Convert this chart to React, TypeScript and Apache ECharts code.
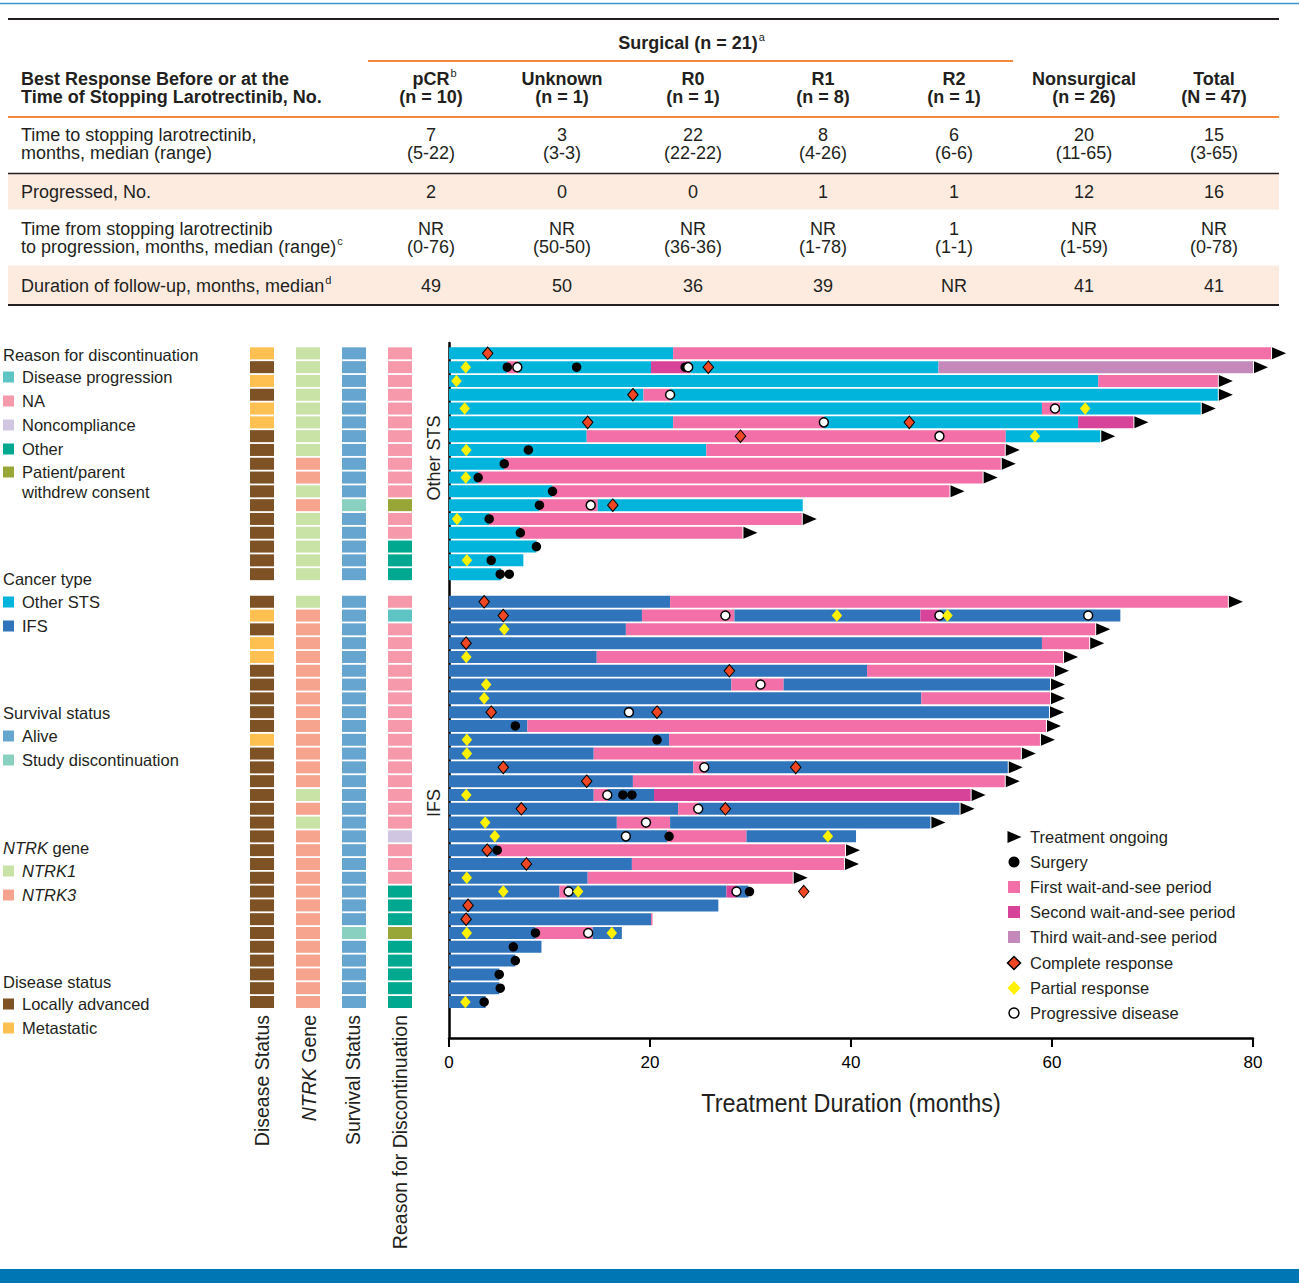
import React, { useEffect, useRef } from 'react';
import * as echarts from 'echarts';

// ---------------- Table data ----------------
const tableColumns = ['pCR', 'Unknown', 'R0', 'R1', 'R2', 'Nonsurgical', 'Total'];
const tableColumnN = ['(n = 10)', '(n = 1)', '(n = 1)', '(n = 8)', '(n = 1)', '(n = 26)', '(N = 47)'];
const timeToStopMedian = ['7', '3', '22', '8', '6', '20', '15'];
const timeToStopRange = ['(5-22)', '(3-3)', '(22-22)', '(4-26)', '(6-6)', '(11-65)', '(3-65)'];
const progressedNo = ['2', '0', '0', '1', '1', '12', '16'];
const timeToProgMedian = ['NR', 'NR', 'NR', 'NR', '1', 'NR', 'NR'];
const timeToProgRange = ['(0-76)', '(50-50)', '(36-36)', '(1-78)', '(1-1)', '(1-59)', '(0-78)'];
const followUpMedian = ['49', '50', '36', '39', 'NR', '41', '41'];

// ---------------- Swimmer data ----------------
const cancerType = [
  'Other STS', 'Other STS', 'Other STS', 'Other STS', 'Other STS', 'Other STS', 'Other STS', 'Other STS', 'Other STS',
  'Other STS', 'Other STS', 'Other STS', 'Other STS', 'Other STS', 'Other STS', 'Other STS', 'Other STS',
  'IFS', 'IFS', 'IFS', 'IFS', 'IFS', 'IFS', 'IFS', 'IFS', 'IFS', 'IFS',
  'IFS', 'IFS', 'IFS', 'IFS', 'IFS', 'IFS', 'IFS', 'IFS', 'IFS', 'IFS',
  'IFS', 'IFS', 'IFS', 'IFS', 'IFS', 'IFS', 'IFS', 'IFS', 'IFS', 'IFS',
];

// [patient, start month, end month, phase] phase: 0 treatment, 1 first, 2 second, 3 third wait-and-see
const treatmentSegments: [number, number, number, number][] = [
  [0, 0, 22.3, 0], [0, 22.3, 81.8, 1],
  [1, 0, 5.8, 0], [1, 5.8, 6.9, 1], [1, 6.9, 20.1, 0], [1, 20.1, 24.0, 2], [1, 24.0, 48.7, 0], [1, 48.7, 80.0, 3],
  [2, 0, 64.6, 0], [2, 64.6, 76.5, 1],
  [3, 0, 19.35, 0], [3, 19.35, 22.0, 1], [3, 22.0, 76.5, 0],
  [4, 0, 59.0, 0], [4, 59.0, 60.8, 1], [4, 60.8, 74.8, 0],
  [5, 0, 22.3, 0], [5, 22.3, 37.3, 1], [5, 37.3, 62.6, 0], [5, 62.6, 68.1, 2],
  [6, 0, 13.7, 0], [6, 13.7, 55.4, 1], [6, 55.4, 64.8, 0],
  [7, 0, 25.6, 0], [7, 25.6, 55.3, 1],
  [8, 0, 5.5, 0], [8, 5.5, 54.9, 1],
  [9, 0, 2.9, 0], [9, 2.9, 53.1, 1],
  [10, 0, 10.3, 0], [10, 10.3, 49.8, 1],
  [11, 0, 9.0, 0], [11, 9.0, 14.8, 1], [11, 14.8, 35.2, 0],
  [12, 0, 4.0, 0], [12, 4.0, 35.1, 1],
  [13, 0, 7.1, 0], [13, 7.1, 29.2, 1],
  [14, 0, 8.7, 0],
  [15, 0, 7.4, 0],
  [16, 0, 5.2, 0],
  [17, 0, 22.0, 0], [17, 22.0, 77.5, 1],
  [18, 0, 19.2, 0], [18, 19.2, 28.4, 1], [18, 28.4, 46.9, 0], [18, 46.9, 48.8, 2], [18, 48.8, 66.8, 0],
  [19, 0, 17.6, 0], [19, 17.6, 64.3, 1],
  [20, 0, 59.0, 0], [20, 59.0, 63.7, 1],
  [21, 0, 14.7, 0], [21, 14.7, 61.1, 1],
  [22, 0, 41.6, 0], [22, 41.6, 60.2, 1],
  [23, 0, 28.1, 0], [23, 28.1, 33.3, 1], [23, 33.3, 59.8, 0],
  [24, 0, 47.0, 0], [24, 47.0, 59.8, 1],
  [25, 0, 59.7, 0],
  [26, 0, 7.8, 0], [26, 7.8, 59.4, 1],
  [27, 0, 21.9, 0], [27, 21.9, 58.8, 1],
  [28, 0, 14.4, 0], [28, 14.4, 56.9, 1],
  [29, 0, 24.3, 0], [29, 24.3, 25.6, 1], [29, 25.6, 55.6, 0],
  [30, 0, 18.3, 0], [30, 18.3, 55.3, 1],
  [31, 0, 14.4, 0], [31, 14.4, 15.8, 1], [31, 15.8, 20.4, 0], [31, 20.4, 51.9, 2],
  [32, 0, 22.8, 0], [32, 22.8, 24.8, 1], [32, 24.8, 50.8, 0],
  [33, 0, 16.7, 0], [33, 16.7, 22.0, 1], [33, 22.0, 47.9, 0],
  [34, 0, 21.7, 0], [34, 21.7, 29.6, 1], [34, 29.6, 40.5, 0],
  [35, 0, 4.8, 0], [35, 4.8, 39.4, 1],
  [36, 0, 18.2, 0], [36, 18.2, 39.3, 1],
  [37, 0, 13.8, 0], [37, 13.8, 34.2, 1],
  [38, 0, 11.0, 0], [38, 11.0, 11.7, 1], [38, 11.7, 27.6, 0], [38, 27.6, 28.6, 2], [38, 28.6, 29.8, 0],
  [39, 0, 26.8, 0],
  [40, 0, 20.1, 0], [40, 20.1, 20.25, 1],
  [41, 0, 8.6, 0], [41, 8.6, 14.3, 1], [41, 14.3, 17.2, 0],
  [42, 0, 9.2, 0],
  [43, 0, 6.6, 0],
  [44, 0, 5.0, 0],
  [45, 0, 5.0, 0],
  [46, 0, 3.65, 0],
];

// [patient, month]
const surgeryEvents: [number, number][] = [
  [1, 5.8], [1, 12.7], [1, 23.5], [7, 7.9], [8, 5.5], [9, 2.9], [10, 10.3], [11, 9.0], [12, 4.0], [13, 7.1],
  [14, 8.7], [15, 4.2], [16, 5.1], [16, 6.0],
  [26, 6.6], [27, 20.7], [31, 17.3], [31, 18.2], [34, 21.9], [35, 4.8], [38, 29.9], [41, 8.6], [42, 6.4],
  [43, 6.6], [44, 5.0], [45, 5.1], [46, 3.5],
];
const progressiveDisease: [number, number][] = [
  [1, 6.8], [1, 23.8], [3, 22.0], [4, 60.3], [5, 37.3], [6, 48.8], [11, 14.1],
  [18, 27.5], [18, 48.8], [18, 63.6], [23, 31.0], [25, 17.9], [29, 25.4], [31, 15.75], [32, 24.8], [33, 19.6],
  [34, 17.6], [38, 11.9], [38, 28.6], [41, 13.85],
];
const completeResponse: [number, number][] = [
  [0, 3.85], [1, 25.8], [3, 18.3], [5, 13.8], [5, 45.8], [6, 29.0], [11, 16.3],
  [17, 3.5], [18, 5.4], [20, 1.7], [22, 27.9], [25, 4.2], [25, 20.7], [29, 5.4], [29, 34.5], [30, 13.7],
  [32, 7.2], [32, 27.5], [35, 3.8], [36, 7.7], [38, 35.3], [39, 1.9], [40, 1.7],
];
const partialResponse: [number, number][] = [
  [1, 1.67], [2, 0.74], [4, 1.56], [4, 63.3], [6, 58.3], [7, 1.72], [9, 1.67], [12, 0.8], [15, 1.78],
  [18, 38.6], [18, 49.6], [19, 5.5], [21, 1.72], [23, 3.7], [24, 3.5], [27, 1.78], [28, 1.78], [31, 1.72],
  [33, 3.6], [34, 4.56], [34, 37.7], [37, 1.77], [38, 5.4], [38, 12.85], [41, 1.77], [41, 16.2], [46, 1.63],
];
const treatmentOngoing: [number, number][] = [
  [0, 81.8], [1, 80.0], [2, 76.5], [3, 76.5], [4, 74.8], [5, 68.1], [6, 64.8], [7, 55.3], [8, 54.9], [9, 53.1],
  [10, 49.8], [12, 35.1], [13, 29.2],
  [17, 77.5], [19, 64.3], [20, 63.7], [21, 61.1], [22, 60.2], [23, 59.8], [24, 59.8], [25, 59.7], [26, 59.4],
  [27, 58.8], [28, 56.9], [29, 55.6], [30, 55.3], [31, 51.9], [32, 50.8], [33, 47.9], [35, 39.4], [36, 39.3],
  [37, 34.2],
];

// Annotation columns (per patient)
const diseaseStatus = [
  'Metastatic', 'Locally advanced', 'Metastatic', 'Locally advanced', 'Metastatic', 'Metastatic',
  'Locally advanced', 'Locally advanced', 'Locally advanced', 'Locally advanced', 'Locally advanced',
  'Locally advanced', 'Locally advanced', 'Locally advanced', 'Locally advanced', 'Locally advanced', 'Locally advanced',
  'Locally advanced', 'Metastatic', 'Locally advanced', 'Metastatic', 'Metastatic', 'Locally advanced',
  'Locally advanced', 'Locally advanced', 'Locally advanced', 'Locally advanced', 'Metastatic',
  'Locally advanced', 'Locally advanced', 'Locally advanced', 'Locally advanced', 'Locally advanced',
  'Locally advanced', 'Locally advanced', 'Locally advanced', 'Locally advanced', 'Locally advanced',
  'Locally advanced', 'Locally advanced', 'Locally advanced', 'Locally advanced', 'Locally advanced',
  'Locally advanced', 'Locally advanced', 'Locally advanced', 'Locally advanced',
];
const ntrkGene = [
  'NTRK1', 'NTRK1', 'NTRK1', 'NTRK1', 'NTRK1', 'NTRK1', 'NTRK1', 'NTRK1', 'NTRK3', 'NTRK3', 'NTRK1',
  'NTRK3', 'NTRK1', 'NTRK1', 'NTRK1', 'NTRK1', 'NTRK1',
  'NTRK1', 'NTRK3', 'NTRK3', 'NTRK3', 'NTRK3', 'NTRK3', 'NTRK3', 'NTRK3', 'NTRK3', 'NTRK3', 'NTRK3',
  'NTRK3', 'NTRK3', 'NTRK3', 'NTRK1', 'NTRK3', 'NTRK1', 'NTRK3', 'NTRK3', 'NTRK3', 'NTRK3', 'NTRK3',
  'NTRK3', 'NTRK3', 'NTRK3', 'NTRK3', 'NTRK3', 'NTRK3', 'NTRK3', 'NTRK3',
];
const survivalStatus = [
  'Alive', 'Alive', 'Alive', 'Alive', 'Alive', 'Alive', 'Alive', 'Alive', 'Alive', 'Alive', 'Alive',
  'Study discontinuation', 'Alive', 'Alive', 'Alive', 'Alive', 'Alive',
  'Alive', 'Alive', 'Alive', 'Alive', 'Alive', 'Alive', 'Alive', 'Alive', 'Alive', 'Alive', 'Alive',
  'Alive', 'Alive', 'Alive', 'Alive', 'Alive', 'Alive', 'Alive', 'Alive', 'Alive', 'Alive', 'Alive',
  'Alive', 'Alive', 'Study discontinuation', 'Alive', 'Alive', 'Alive', 'Alive', 'Alive',
];
const discontinuationReason = [
  'NA', 'NA', 'NA', 'NA', 'NA', 'NA', 'NA', 'NA', 'NA', 'NA', 'NA',
  'Patient/parent withdrew consent', 'NA', 'NA', 'Other', 'Other', 'Other',
  'NA', 'Disease progression', 'NA', 'NA', 'NA', 'NA', 'NA', 'NA', 'NA', 'NA', 'NA', 'NA', 'NA', 'NA',
  'NA', 'NA', 'NA', 'Noncompliance', 'NA', 'NA', 'NA', 'Other', 'Other', 'Other',
  'Patient/parent withdrew consent', 'Other', 'Other', 'Other', 'Other', 'Other',
];
const annotationColumns = ['Disease Status', 'NTRK Gene', 'Survival Status', 'Reason for Discontinuation'];
const xTicks = [0, 20, 40, 60, 80];

// ---------------- Styles ----------------
const FONT = 'Liberation Sans';
const INK = '#231f20';
const COLORS: Record<string, string> = {
  'Other STS': '#00b4dc',
  IFS: '#3075bb',
  wait1: '#f26fa7',
  wait2: '#d8439a',
  wait3: '#c488ba',
  'Locally advanced': '#7f5225',
  Metastatic: '#fec050',
  NTRK1: '#c9e2a5',
  NTRK3: '#f7a48f',
  Alive: '#66a5cf',
  'Study discontinuation': '#8ad0c0',
  NA: '#f599ab',
  'Disease progression': '#5ec4c4',
  Noncompliance: '#d0c6e2',
  Other: '#00a890',
  'Patient/parent withdrew consent': '#97a636',
};

const Y_MIN = -0.75;
const Y_MAX = 49.61;

const slotOf = (p: number) => (cancerType[p] === 'IFS' ? p + 1 : p);

let measureCtx: CanvasRenderingContext2D | null = null;
function textWidth(text: string, size: number, weight = 'normal', style = 'normal') {
  if (!measureCtx) measureCtx = document.createElement('canvas').getContext('2d');
  if (!measureCtx) return text.length * size * 0.55;
  measureCtx.font = `${style} ${weight} ${size}px "${FONT}", Arial, sans-serif`;
  return measureCtx.measureText(text).width;
}

function txt(text: string, x: number, y: number, o: any = {}) {
  return {
    type: 'text',
    x,
    y,
    silent: true,
    rotation: o.rotation || 0,
    scaleX: o.scaleX || 1,
    style: {
      text,
      fontSize: o.size || 18,
      fontFamily: FONT,
      fontWeight: o.bold ? 'bold' : 'normal',
      fontStyle: o.italic ? 'italic' : 'normal',
      fill: o.color || INK,
      align: o.align || 'left',
      verticalAlign: 'middle',
    },
  };
}
function hline(x1: number, x2: number, y: number, color: string, w: number) {
  return { type: 'line', silent: true, shape: { x1, y1: y, x2, y2: y }, style: { stroke: color, lineWidth: w } };
}
function rect(x: number, y: number, w: number, h: number, fill: string) {
  return { type: 'rect', silent: true, shape: { x, y, width: w, height: h }, style: { fill } };
}

function buildGraphic() {
  const g: any[] = [];
  const ORANGE = '#f5883d';
  const colX = [431, 562, 693, 823, 954, 1084, 1214];
  // figure frame
  g.push(hline(0, 1299, 3.5, '#3b93cf', 1.5));
  g.push(rect(0, 1269, 1299, 14, '#0077b5'));
  // table
  g.push(rect(8, 174, 1271, 35.5, '#fdebe0'));
  g.push(rect(8, 265.5, 1271, 38.5, '#fdebe0'));
  g.push(hline(8, 1279, 19, INK, 2));
  g.push(hline(368, 1013, 61, ORANGE, 2));
  g.push(hline(8, 1279, 117, ORANGE, 2));
  g.push(hline(8, 1279, 173.5, INK, 1.5));
  g.push(hline(8, 1279, 305, INK, 2));

  const surg = 'Surgical (n = 21)';
  g.push(txt(surg, 688, 43, { bold: true, align: 'center' }));
  g.push(txt('a', 688 + textWidth(surg, 18, 'bold') / 2 + 1, 37, { size: 11 }));

  g.push(txt('Best Response Before or at the', 21, 79, { bold: true }));
  g.push(txt('Time of Stopping Larotrectinib, No.', 21, 97, { bold: true }));
  tableColumns.forEach((c, i) => {
    g.push(txt(c, colX[i], 79, { bold: true, align: 'center' }));
    if (c === 'pCR') g.push(txt('b', colX[i] + textWidth(c, 18, 'bold') / 2 + 1, 73, { size: 11 }));
    g.push(txt(tableColumnN[i], colX[i], 97, { bold: true, align: 'center' }));
  });

  g.push(txt('Time to stopping larotrectinib,', 21, 135));
  g.push(txt('months, median (range)', 21, 153));
  g.push(txt('Progressed, No.', 21, 192));
  g.push(txt('Time from stopping larotrectinib', 21, 229));
  const tp = 'to progression, months, median (range)';
  g.push(txt(tp, 21, 247));
  g.push(txt('c', 21 + textWidth(tp, 18) + 1, 241, { size: 11 }));
  const fu = 'Duration of follow-up, months, median';
  g.push(txt(fu, 21, 286));
  g.push(txt('d', 21 + textWidth(fu, 18) + 1, 280, { size: 11 }));
  colX.forEach((x, i) => {
    g.push(txt(timeToStopMedian[i], x, 135, { align: 'center' }));
    g.push(txt(timeToStopRange[i], x, 153, { align: 'center' }));
    g.push(txt(progressedNo[i], x, 192, { align: 'center' }));
    g.push(txt(timeToProgMedian[i], x, 229, { align: 'center' }));
    g.push(txt(timeToProgRange[i], x, 247, { align: 'center' }));
    g.push(txt(followUpMedian[i], x, 286, { align: 'center' }));
  });

  // Left legend
  const LS = 16.5;
  const heading = (t: string, y: number) => g.push(txt(t, 3, y, { size: LS }));
  const item = (t: string, color: string, y: number, italic = false) => {
    g.push(rect(3, y - 5.5, 11, 11, color));
    g.push(txt(t, 22, y, { size: LS, italic }));
  };
  heading('Reason for discontinuation', 355);
  item('Disease progression', COLORS['Disease progression'], 377);
  item('NA', COLORS.NA, 401);
  item('Noncompliance', COLORS.Noncompliance, 425);
  item('Other', COLORS.Other, 449);
  item('Patient/parent', COLORS['Patient/parent withdrew consent'], 472);
  g.push(txt('withdrew consent', 22, 492, { size: LS }));
  heading('Cancer type', 579);
  item('Other STS', COLORS['Other STS'], 602);
  item('IFS', COLORS.IFS, 626);
  heading('Survival status', 713);
  item('Alive', COLORS.Alive, 736);
  item('Study discontinuation', COLORS['Study discontinuation'], 760);
  g.push(txt('NTRK', 3, 848, { size: LS, italic: true }));
  g.push(txt(' gene', 3 + textWidth('NTRK', LS, 'normal', 'italic'), 848, { size: LS }));
  item('NTRK1', COLORS.NTRK1, 871, true);
  item('NTRK3', COLORS.NTRK3, 895, true);
  heading('Disease status', 982);
  item('Locally advanced', COLORS['Locally advanced'], 1004);
  item('Metastatic', COLORS.Metastatic, 1028);

  // Rotated annotation column labels
  const RS = 19.5;
  const labX = [262, 309, 353, 400];
  annotationColumns.forEach((name, i) => {
    if (name.startsWith('NTRK')) {
      const rest = name.slice(4);
      const wRest = textWidth(rest, RS);
      g.push({
        type: 'group', x: labX[i], y: 1015, rotation: Math.PI / 2, silent: true,
        children: [txt(rest, 0, 0, { size: RS, align: 'right' }), txt('NTRK', -wRest, 0, { size: RS, align: 'right', italic: true })],
      });
    } else {
      g.push(txt(name, labX[i], 1015, { size: RS, align: 'right', rotation: Math.PI / 2 }));
    }
  });
  g.push(txt('Other STS', 434, 458, { size: 18, align: 'center', rotation: Math.PI / 2 }));
  g.push(txt('IFS', 434, 803, { size: 18, align: 'center', rotation: Math.PI / 2 }));

  // Axis title
  g.push(txt('Treatment Duration (months)', 851, 1103, { size: 26, align: 'center', scaleX: 0.9 }));

  // Right legend
  const RX = 1014;
  const TX = 1030;
  g.push({ type: 'polygon', silent: true, shape: { points: [[1007.5, 831], [1021.5, 837], [1007.5, 843]] }, style: { fill: '#000' } });
  g.push(txt('Treatment ongoing', TX, 837, { size: LS }));
  g.push({ type: 'circle', silent: true, shape: { cx: RX, cy: 862, r: 5.5 }, style: { fill: '#000' } });
  g.push(txt('Surgery', TX, 862, { size: LS }));
  g.push(rect(1008, 881, 12, 12, COLORS.wait1));
  g.push(txt('First wait-and-see period', TX, 887, { size: LS }));
  g.push(rect(1008, 906, 12, 12, COLORS.wait2));
  g.push(txt('Second wait-and-see period', TX, 912, { size: LS }));
  g.push(rect(1008, 931, 12, 12, COLORS.wait3));
  g.push(txt('Third wait-and-see period', TX, 937, { size: LS }));
  g.push({ type: 'polygon', silent: true, shape: { points: [[RX, 956.5], [RX + 6.5, 963], [RX, 969.5], [RX - 6.5, 963]] }, style: { fill: '#ef4624', stroke: '#000', lineWidth: 1.5 } });
  g.push(txt('Complete response', TX, 963, { size: LS }));
  g.push({ type: 'polygon', silent: true, shape: { points: [[RX, 981], [RX + 6.5, 988], [RX, 995], [RX - 6.5, 988]] }, style: { fill: '#fff200' } });
  g.push(txt('Partial response', TX, 988, { size: LS }));
  g.push({ type: 'circle', silent: true, shape: { cx: RX, cy: 1013, r: 5 }, style: { fill: '#fff', stroke: '#000', lineWidth: 1.5 } });
  g.push(txt('Progressive disease', TX, 1013, { size: LS }));
  return g;
}

function buildOption() {
  const segData = treatmentSegments.map(([p, s, e, ph]) => [slotOf(p), s, e, ph, cancerType[p] === 'IFS' ? 1 : 0]);
  const cellColors: string[] = [];
  const cellData: number[][] = [];
  const cols = [diseaseStatus, ntrkGene, survivalStatus, discontinuationReason];
  cancerType.forEach((_, p) => {
    cols.forEach((arr, c) => {
      cellData.push([c, slotOf(p)]);
      cellColors.push(COLORS[arr[p]]);
    });
  });
  const pts = (arr: [number, number][]) => arr.map(([p, m]) => [m, slotOf(p)]);

  return {
    animation: false,
    backgroundColor: '#ffffff',
    grid: [
      { left: 449, top: 343, width: 804, height: 695 },
      { left: 239, top: 343, width: 184, height: 695 },
    ],
    xAxis: [
      {
        type: 'value', gridIndex: 0, min: xTicks[0], max: xTicks[xTicks.length - 1], interval: 20,
        axisLine: { show: true, onZero: false, lineStyle: { color: '#000', width: 2.5 } },
        axisTick: { show: true, length: 9, lineStyle: { color: '#000', width: 2 } },
        axisLabel: { fontSize: 17, color: '#000', margin: 16, fontFamily: FONT },
        splitLine: { show: false },
      },
      { type: 'category', gridIndex: 1, data: annotationColumns, show: false },
    ],
    yAxis: [
      {
        type: 'value', gridIndex: 0, min: Y_MIN, max: Y_MAX, inverse: true,
        axisLine: { show: true, onZero: false, lineStyle: { color: '#000', width: 2.5 } },
        axisTick: { show: false }, axisLabel: { show: false }, splitLine: { show: false },
      },
      { type: 'value', gridIndex: 1, min: Y_MIN, max: Y_MAX, inverse: true, show: false, splitLine: { show: false } },
    ],
    series: [
      {
        type: 'custom', name: 'Treatment', xAxisIndex: 0, yAxisIndex: 0, clip: false, silent: true, z: 2,
        data: segData,
        encode: { x: [1, 2], y: 0 },
        renderItem: (params: any, api: any) => {
          const a = api.coord([api.value(1), api.value(0)]);
          const b = api.coord([api.value(2), api.value(0)]);
          const ph = api.value(3);
          const fill = ph === 0 ? (api.value(4) ? COLORS.IFS : COLORS['Other STS']) : COLORS['wait' + ph];
          return { type: 'rect', shape: { x: a[0], y: a[1] - 6, width: Math.max(b[0] - a[0], 0.6), height: 12 }, style: { fill } };
        },
      },
      {
        type: 'custom', name: 'Annotations', xAxisIndex: 1, yAxisIndex: 1, clip: false, silent: true,
        data: cellData,
        encode: { x: 0, y: 1 },
        renderItem: (params: any, api: any) => {
          const c = api.coord([api.value(0), api.value(1)]);
          return { type: 'rect', shape: { x: c[0] - 12, y: c[1] - 6, width: 24, height: 12 }, style: { fill: cellColors[params.dataIndex] } };
        },
      },
      {
        type: 'scatter', name: 'Treatment ongoing', data: pts(treatmentOngoing), clip: false, silent: true, z: 3,
        symbol: 'path://M0,0L14,6L0,12Z', symbolSize: [14, 12], symbolOffset: [8, 0], itemStyle: { color: '#000', opacity: 1 },
      },
      {
        type: 'scatter', name: 'Surgery', data: pts(surgeryEvents), clip: false, silent: true, z: 4,
        symbol: 'circle', symbolSize: 9.5, itemStyle: { color: '#000', opacity: 1 },
      },
      {
        type: 'scatter', name: 'Progressive disease', data: pts(progressiveDisease), clip: false, silent: true, z: 5,
        symbol: 'circle', symbolSize: 9, itemStyle: { color: '#fff', borderColor: '#000', borderWidth: 1.5, opacity: 1 },
      },
      {
        type: 'scatter', name: 'Complete response', data: pts(completeResponse), clip: false, silent: true, z: 6,
        symbol: 'diamond', symbolSize: [10.5, 12.5], itemStyle: { color: '#ef4624', borderColor: '#000', borderWidth: 1, opacity: 1 },
      },
      {
        type: 'scatter', name: 'Partial response', data: pts(partialResponse), clip: false, silent: true, z: 7,
        symbol: 'diamond', symbolSize: [10.5, 12.5], itemStyle: { color: '#fff200', opacity: 1 },
      },
    ],
    graphic: buildGraphic(),
  };
}

export default function App() {
  const ref = useRef<HTMLDivElement>(null);
  useEffect(() => {
    document.body.style.margin = '0';
    if (!ref.current) return;
    const chart = echarts.init(ref.current, null, { renderer: 'svg' });
    chart.setOption(buildOption() as any);
    return () => chart.dispose();
  }, []);
  return <div ref={ref} style={{ position: 'absolute', left: 0, top: 0, width: 1299, height: 1283, background: '#fff' }} />;
}
